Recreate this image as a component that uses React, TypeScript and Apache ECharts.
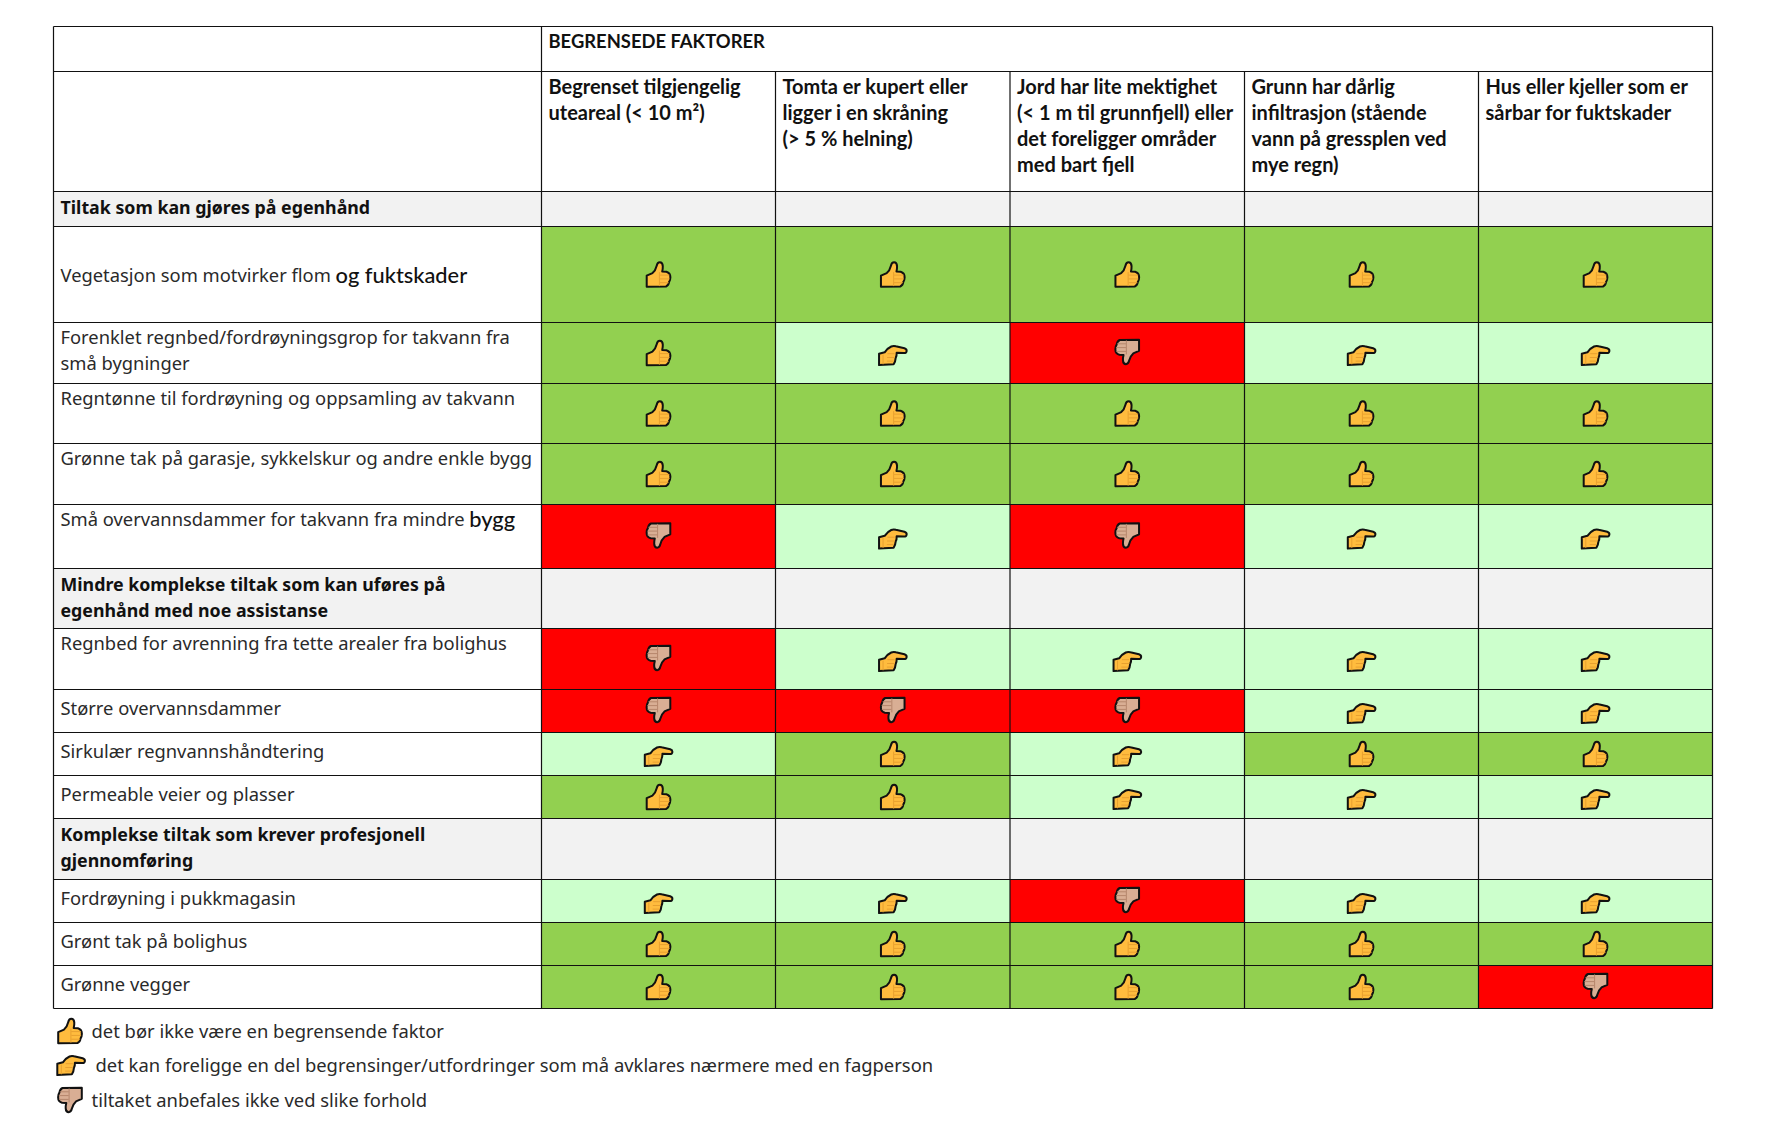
import React, { useEffect, useRef } from "react";
import * as echarts from "echarts";

const RESP = "Y";
const MAYBE = "M";
const NO = "N";

const topHeader = "BEGRENSEDE FAKTORER";

const columnHeaders = [
  ["Begrenset tilgjengelig", "uteareal (< 10 m²)"],
  ["Tomta er kupert eller", "ligger i en skråning", "(> 5 % helning)"],
  ["Jord har lite mektighet", "(< 1 m til grunnfjell) eller", "det foreligger områder", "med bart fjell"],
  ["Grunn har dårlig", "infiltrasjon (stående", "vann på gressplen ved", "mye regn)"],
  ["Hus eller kjeller som er", "sårbar for fuktskader"],
];

const sectionA = ["Tiltak som kan gjøres på egenhånd"];
const sectionB = ["Mindre komplekse tiltak som kan uføres på", "egenhånd med noe assistanse"];
const sectionC = ["Komplekse tiltak som krever profesjonell", "gjennomføring"];

const rows: { label: string[]; kind: string; ratings: string[] }[] = [
  { label: sectionA, kind: "section", ratings: [] },
  { label: ["Vegetasjon som motvirker flom {b|og fuktskader}"], kind: "row", ratings: [RESP, RESP, RESP, RESP, RESP] },
  { label: ["Forenklet regnbed/fordrøyningsgrop for takvann fra", "små bygninger"], kind: "row", ratings: [RESP, MAYBE, NO, MAYBE, MAYBE] },
  { label: ["Regntønne til fordrøyning og oppsamling av takvann"], kind: "row", ratings: [RESP, RESP, RESP, RESP, RESP] },
  { label: ["Grønne tak på garasje, sykkelskur og andre enkle bygg"], kind: "row", ratings: [RESP, RESP, RESP, RESP, RESP] },
  { label: ["Små overvannsdammer for takvann fra mindre {b|bygg}"], kind: "row", ratings: [NO, MAYBE, NO, MAYBE, MAYBE] },
  { label: sectionB, kind: "section", ratings: [] },
  { label: ["Regnbed for avrenning fra tette arealer fra bolighus"], kind: "row", ratings: [NO, MAYBE, MAYBE, MAYBE, MAYBE] },
  { label: ["Større overvannsdammer"], kind: "row", ratings: [NO, NO, NO, MAYBE, MAYBE] },
  { label: ["Sirkulær regnvannshåndtering"], kind: "row", ratings: [MAYBE, RESP, MAYBE, RESP, RESP] },
  { label: ["Permeable veier og plasser"], kind: "row", ratings: [RESP, RESP, MAYBE, MAYBE, MAYBE] },
  { label: sectionC, kind: "section", ratings: [] },
  { label: ["Fordrøyning i pukkmagasin"], kind: "row", ratings: [MAYBE, MAYBE, NO, MAYBE, MAYBE] },
  { label: ["Grønt tak på bolighus"], kind: "row", ratings: [RESP, RESP, RESP, RESP, RESP] },
  { label: ["Grønne vegger"], kind: "row", ratings: [RESP, RESP, RESP, RESP, NO] },
];

const legendEntries = [
  { kind: RESP, text: "det bør ikke være en begrensende faktor" },
  { kind: MAYBE, text: "det kan foreligge en del begrensinger/utfordringer som må avklares nærmere med en fagperson" },
  { kind: NO, text: "tiltaket anbefales ikke ved slike forhold" },
];

// layout, in page pixels
const colEdges = [53.5, 541.5, 775.5, 1010, 1244.5, 1478.5, 1712.5];
const rowEdges = [26.5, 71.5, 191.5, 226.5, 322.5, 383.5, 443.5, 504.5, 568.5, 628.5, 689.5, 732.5, 775.5, 818.5, 879.5, 922.5, 965.5, 1008.5];
const X0 = colEdges[0];
const Y0 = rowEdges[0];
const PLOT_W = colEdges[6] - X0;
const PLOT_H = rowEdges[17] - Y0;

const fills: Record<string, string> = { Y: "#92D050", M: "#CCFFCC", N: "#FF0000" };

const THUMB_UP =
  "M0.7 14.2 L6.5 11.6 Q9.5 9 10.6 4.4 Q11.4 0.8 13.8 0.8 Q16.6 0.8 16.8 4.6 Q16.9 7.5 16.2 10 L20.4 10.2 Q24.4 11.4 24.4 15.8 Q24.4 18.5 23 20.6 Q22.6 23.8 20 25 L0.7 25.2 Z";
const THUMB_LINES = "M13.4 10.6 L13.4 24.6 M13.8 13.6 L23.4 13.6 M13.8 17.4 L23.6 17.4 M13.8 21.2 L22.6 21.2";
const POINT =
  "M0.8 9.2 L6.4 7.8 Q9.4 3.6 13 2 Q15.2 1 17.6 1.8 L26.2 3.8 Q28.6 4.6 28.4 6.6 Q28 8.8 25.4 8.6 L18.4 8.2 Q18.6 11.5 17.4 13.6 Q17.2 17 15.4 19.8 L0.8 20.6 Z";
const POINT_LINES = "M4.8 10 L4.8 19.8 M9.2 9.2 L16.4 9.2 M8.8 13 L16.6 13 M8.6 16.6 L15.6 16.6";

const ICONS: Record<string, { d: string; lines: string; w: number; h: number; fill: string; line: string; rot: boolean; dy: number }> = {
  Y: { d: THUMB_UP, lines: THUMB_LINES, w: 25, h: 26, fill: "#FFBC3E", line: "#E8A030", rot: false, dy: 0 },
  M: { d: POINT, lines: POINT_LINES, w: 29, h: 21, fill: "#FFBC3E", line: "#E8A030", rot: false, dy: 2 },
  N: { d: THUMB_UP, lines: THUMB_LINES, w: 25, h: 26, fill: "#D9AE94", line: "#B5866C", rot: true, dy: -1 },
};

function handIcon(kind: string, cx: number, cy: number) {
  const ic = ICONS[kind];
  const x = ic.rot ? cx + ic.w / 2 : cx - ic.w / 2;
  const y = ic.rot ? cy + ic.h / 2 + ic.dy : cy - ic.h / 2 + ic.dy;
  const rotation = ic.rot ? Math.PI : 0;
  return [
    {
      type: "path", x, y, rotation,
      shape: { pathData: ic.d },
      style: { fill: ic.fill, stroke: "#111", lineWidth: 2, lineJoin: "round" },
    },
    {
      type: "path", x, y, rotation,
      shape: { pathData: ic.lines },
      style: { fill: "none", stroke: ic.line, lineWidth: 1 },
    },
  ];
}

const REGULAR_FONT = "'Noto Sans', sans-serif";
const BOLD_FONT = "Lato, sans-serif";
const RICH = { b: { fontFamily: BOLD_FONT, fontSize: 21.8, fontWeight: 500, fill: "#111" } };

function textEl(text: string, x: number, y: number, family: string, weight: number, size: number) {
  return {
    type: "text",
    x, y,
    style: {
      text,
      fontFamily: family,
      fontWeight: weight,
      fontSize: size,
      fill: weight >= 700 ? "#111" : "#2a2a2a",
      verticalAlign: "middle",
      rich: RICH,
    },
  };
}

const cellData: any[] = [];
rows.forEach((r, ri) => {
  for (let c = 0; c < 5; c++) cellData.push([c, ri]);
});

const LINE_H = 26;
const LINE = { stroke: "#111", lineWidth: 1.2 };

function labelCenter(ri: number, nLines: number) {
  const top = rowEdges[ri + 2];
  const bottom = rowEdges[ri + 3];
  const h = bottom - top;
  const sec = rows[ri].kind === "section";
  if (h < 50 && nLines === 1 && !sec) return top + h / 2 - 4;
  if (h > 80) return top + h / 2 - 0.5;
  return top + (sec ? 15 : 14);
}

function App() {
  const ref = useRef<HTMLDivElement>(null);
  useEffect(() => {
    const chart = echarts.init(ref.current!, undefined, { renderer: "svg" });
    const option: any = {
      animation: false,
      backgroundColor: "#fff",
      grid: { left: X0, top: Y0, width: PLOT_W, height: PLOT_H, containLabel: false },
      xAxis: { type: "value", min: X0, max: colEdges[6], show: false },
      yAxis: { type: "value", min: Y0, max: rowEdges[17], inverse: true, show: false },
      series: [
        {
          type: "custom",
          silent: true,
          clip: false,
          coordinateSystem: "cartesian2d",
          data: cellData,
          encode: { x: 0, y: 1 },
          renderItem: (_p: any, api: any) => {
            const c = api.value(0) as number;
            const ri = api.value(1) as number;
            const rating = rows[ri].ratings[c];
            const [x0, y0] = api.coord([colEdges[c + 1], rowEdges[ri + 2]]);
            const [x1, y1] = api.coord([colEdges[c + 2], rowEdges[ri + 3]]);
            const fill = rating ? fills[rating] : "#F2F2F2";
            const children: any[] = [
              { type: "rect", shape: { x: x0, y: y0, width: x1 - x0, height: y1 - y0 }, style: { fill } },
            ];
            if (rating) children.push(...handIcon(rating, (x0 + x1) / 2, (y0 + y1) / 2));
            return { type: "group", children };
          },
        },
        {
          type: "custom",
          silent: true,
          clip: false,
          coordinateSystem: "cartesian2d",
          data: rows.map((_, i) => [0, i]),
          encode: { x: 0, y: 1 },
          renderItem: (_p: any, api: any) => {
            const ri = api.value(1) as number;
            const r = rows[ri];
            const [x0, y0] = api.coord([colEdges[0], rowEdges[ri + 2]]);
            const [x1, y1] = api.coord([colEdges[1], rowEdges[ri + 3]]);
            const sec = r.kind === "section";
            const children: any[] = [];
            if (sec) children.push({ type: "rect", shape: { x: x0, y: y0, width: x1 - x0, height: y1 - y0 }, style: { fill: "#F2F2F2" } });
            const yc = labelCenter(ri, r.label.length);
            r.label.forEach((line, i) => {
              children.push(textEl(line, x0 + 7, yc + i * LINE_H, REGULAR_FONT, sec ? 700 : 400, sec ? 17.8 : 18.35));
            });
            return { type: "group", children };
          },
        },
        {
          type: "custom",
          silent: true,
          clip: false,
          coordinateSystem: "cartesian2d",
          data: [[0, 0]],
          encode: { x: 0, y: 1 },
          renderItem: () => {
            const children: any[] = [];
            children.push(textEl(topHeader, colEdges[1] + 7, rowEdges[0] + 14.5, BOLD_FONT, 700, 18.4));
            columnHeaders.forEach((h, c) => {
              h.forEach((line, i) => {
                children.push(textEl(line, colEdges[c + 1] + 7, rowEdges[1] + 14.5 + i * LINE_H, BOLD_FONT, 700, 20));
              });
            });
            rowEdges.forEach((y) => {
              children.push({ type: "line", shape: { x1: X0, y1: y, x2: colEdges[6], y2: y }, style: LINE });
            });
            colEdges.forEach((x, i) => {
              const top = i === 0 || i === 1 || i === 6 ? Y0 : rowEdges[1];
              children.push({ type: "line", shape: { x1: x, y1: top, x2: x, y2: rowEdges[17] }, style: LINE });
            });
            const legendY = [1030, 1064, 1099];
            const legendX = [91.5, 95.5, 91.5];
            const iconX = [70, 71, 70];
            const iconY = [1031, 1065, 1100];
            legendEntries.forEach((e, i) => {
              children.push(...handIcon(e.kind, iconX[i], iconY[i] - ICONS[e.kind].dy));
              children.push(textEl(e.text, legendX[i], legendY[i], REGULAR_FONT, 400, 18.4));
            });
            return { type: "group", children };
          },
        },
      ],
    };
    chart.setOption(option);
    return () => chart.dispose();
  }, []);
  return <div ref={ref} style={{ position: "absolute", left: 0, top: 0, width: 1775, height: 1141 }} />;
}

export default App;
